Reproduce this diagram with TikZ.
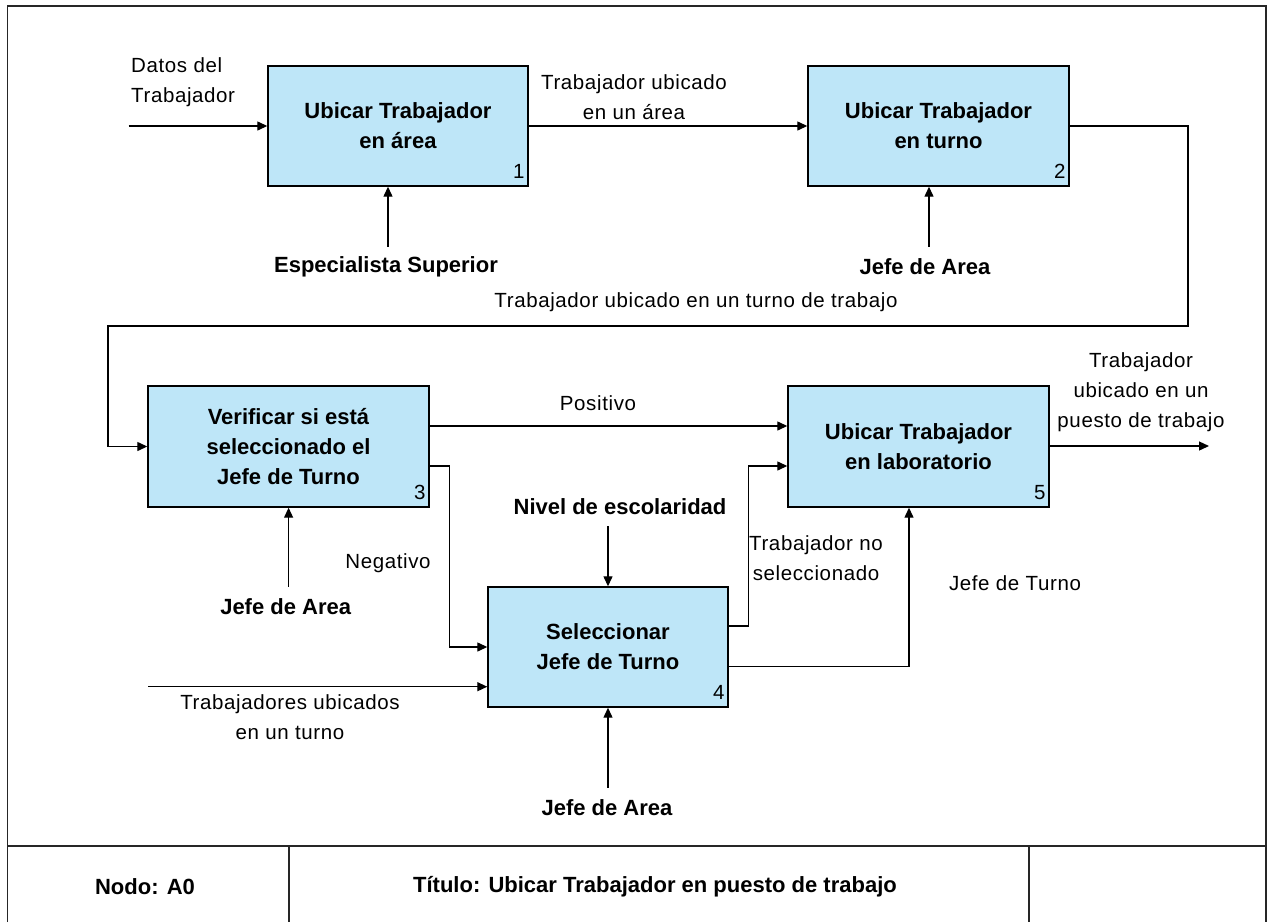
\documentclass[tikz,border=0pt]{standalone}
\usepackage{fontspec}
\newfontfamily\diagfont[LetterSpace=3]{Liberation Sans}
\newfontfamily\diagbold{Liberation Sans Bold}
\usetikzlibrary{arrows.meta,calc}
\definecolor{boxblue}{RGB}{190,230,248}
\begin{document}
\begin{tikzpicture}[x=1pt,y=-1pt,
  lbl/.style={font=\diagfont\fontsize{20.5}{30}\selectfont, inner sep=0pt, align=center},
  blbl/.style={font=\diagbold\fontsize{22}{30}\selectfont, inner sep=0pt, align=center},
  process/.style={draw=black, line width=1.4pt, fill=boxblue, inner sep=0pt,
    font=\diagbold\fontsize{22}{30}\selectfont, align=center},
  num/.style={font=\diagfont\fontsize{20.5}{30}\selectfont, inner sep=0pt, anchor=south east},
  arr/.style={line width=1.3pt, -{Triangle[length=10pt,width=9pt]}},
  frame/.style={line width=1.8pt, draw=black!85}]

\useasboundingbox (0,0) rectangle (1269,922);

% sheet frame and title block
\draw[frame] (7.5,922) -- (7.5,6) -- (1266,6) -- (1266,922);
\draw[frame] (7.5,846) -- (1266,846);
\draw[frame] (289,846) -- (289,922);
\draw[frame] (1029,846) -- (1029,922);
\node[blbl] (nodo) at (145,887) {Nodo: A0};
\node[blbl] (titulo) at (655,887) {Título: Ubicar Trabajador en puesto de trabajo};

% activity boxes
\node[process, minimum width=260pt, minimum height=120pt] (b1) at (398,126) {Ubicar Trabajador\\en área};
\node[process, minimum width=261pt, minimum height=120pt] (b2) at (938.5,126) {Ubicar Trabajador\\en turno};
\node[process, minimum width=281pt, minimum height=121pt] (b3) at (288.5,446.5) {Verificar si está\\seleccionado el\\Jefe de Turno};
\node[process, minimum width=240pt, minimum height=120pt] (b4) at (608,647) {Seleccionar\\Jefe de Turno};
\node[process, minimum width=261pt, minimum height=121pt] (b5) at (918.5,446.5) {Ubicar Trabajador\\en laboratorio};

\node[num] (n1) at ([xshift=-4pt,yshift=8pt]b1.south east) {1};
\node[num] (n2) at ([xshift=-4pt,yshift=8pt]b2.south east) {2};
\node[num] (n3) at ([xshift=-4pt,yshift=8pt]b3.south east) {3};
\node[num] (n4) at ([xshift=-4pt,yshift=8pt]b4.south east) {4};
\node[num] (n5) at ([xshift=-4pt,yshift=8pt]b5.south east) {5};

% free ends of the connectors
\coordinate (in1) at (128.5,126);
\coordinate (in4) at (148,686.7);
\coordinate (out5) at (1209,446);
\coordinate (k1) at (388,246.7);
\coordinate (k2) at (929,246.7);
\coordinate (k3) at (288.6,586.7);
\coordinate (k4t) at (608,526);
\coordinate (k4b) at (608,787.7);
\coordinate (r1) at (1188,326);
\coordinate (l1) at (108,326);

% inputs and outputs
\draw[arr] (in1) -- (b1.west);
\draw[arr] (b1.east) -- (b2.west);
\draw[arr] (b2.east) -| (r1) -- (l1) |- (b3.west);
\draw[arr] ([yshift=20.5pt]b3.east) -- ([yshift=20.5pt]b5.west);
\draw[arr] ([yshift=-19.5pt]b3.east) -- ++(20,0) |- (b4.west);
\draw[arr] (in4) -- (in4 -| b4.west);
\draw[arr] ([yshift=21pt]b4.east) -- ++(20,0) |- ([yshift=-19.5pt]b5.west);
\draw[arr] ([yshift=-19.7pt]b4.east) -| ([xshift=-9.5pt]b5.south);
\draw[arr] ([yshift=0.5pt]b5.east) -- (out5);

% controls
\draw[arr] (k1) -- (k1 |- b1.south);
\draw[arr] (k2) -- (k2 |- b2.south);
\draw[arr] (k3) -- (k3 |- b3.south);
\draw[arr] (k4t) -- (k4t |- b4.north);
\draw[arr] (k4b) -- (k4b |- b4.south);

% arrow labels
\node[lbl, align=left, anchor=west] (tdat) at (131,81.7) {Datos del\\Trabajador};
\node[lbl] (tua) at (634,97) {Trabajador ubicado\\en un área};
\node[blbl] (tesp) at (386,266.7) {Especialista Superior};
\node[blbl] (tja2) at (925,266.7) {Jefe de Area};
\node[lbl] (ttut) at (696,302) {Trabajador ubicado en un turno de trabajo};
\node[lbl] (tpos) at (598,402.7) {Positivo};
\node[blbl] (tnes) at (620,506.7) {Nivel de escolaridad};
\node[blbl] (tja3) at (285.7,606.7) {Jefe de Area};
\node[lbl] (tneg) at (388,562.7) {Negativo};
\node[lbl] (ttns) at (816,557.7) {Trabajador no\\seleccionado};
\node[lbl] (tjt) at (1015,582.7) {Jefe de Turno};
\node[lbl] (ttub) at (290,717) {Trabajadores ubicados\\en un turno};
\node[blbl] (tja4) at (607,808) {Jefe de Area};
\node[lbl] (tout) at (1141,392.5) {Trabajador\\ubicado en un\\puesto de trabajo};
\end{tikzpicture}
\end{document}
